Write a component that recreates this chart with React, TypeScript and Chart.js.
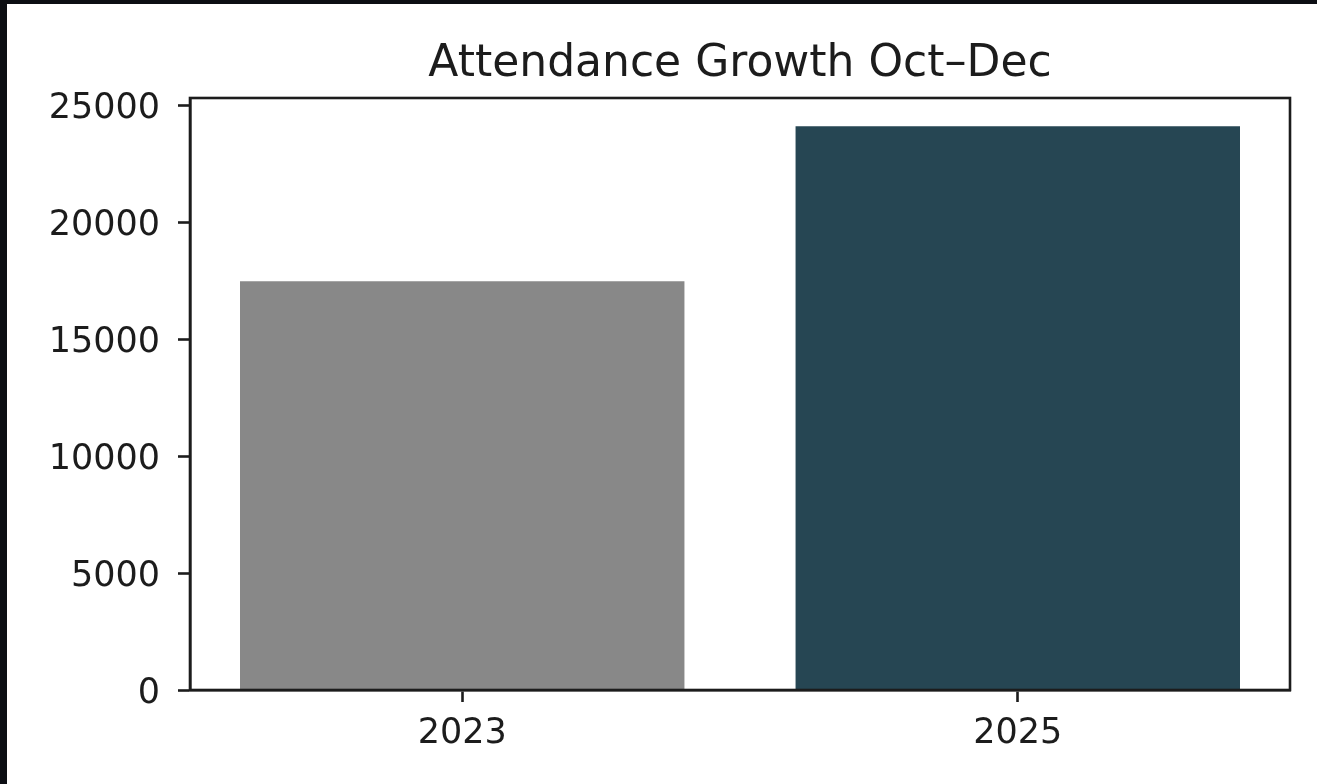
import React, { useEffect, useRef } from "react";
import { Chart, registerables } from "chart.js";

Chart.register(...registerables);

const title = "Attendance Growth Oct–Dec";
const categories = ["2023", "2025"];
const attendance = [17470, 24100];
const barColors = ["#888888", "#264653"];
const yTicks = [0, 5000, 10000, 15000, 20000, 25000];

const FONT = "'DejaVu Sans', sans-serif";
const INK = "#1c1c1c";

// Axes frame (matplotlib-style spines) drawn over the bars
const framePlugin = {
  id: "frame",
  afterDatasetsDraw(chart: any) {
    const { ctx, chartArea } = chart;
    ctx.save();
    ctx.strokeStyle = INK;
    ctx.lineWidth = 2.6;
    ctx.strokeRect(
      chartArea.left,
      chartArea.top,
      chartArea.right - chartArea.left,
      chartArea.bottom - chartArea.top
    );
    ctx.restore();
  },
};

// Title centred over the plot area, as matplotlib does
const axesTitlePlugin = {
  id: "axesTitle",
  afterDraw(chart: any) {
    const { ctx, chartArea } = chart;
    ctx.save();
    ctx.fillStyle = INK;
    ctx.font = `normal 44px ${FONT}`;
    ctx.textAlign = "center";
    ctx.textBaseline = "alphabetic";
    ctx.fillText(title, (chartArea.left + chartArea.right) / 2, chartArea.top - 22);
    ctx.restore();
  },
};

export default function App() {
  const ref = useRef<HTMLCanvasElement | null>(null);

  useEffect(() => {
    if (!ref.current) return;
    const maxY = Math.max(...attendance) * 1.05;
    const chart = new Chart(ref.current, {
      type: "bar",
      data: {
        datasets: [
          {
            label: "Attendance",
            data: attendance.map((v, i) => ({ x: i, y: v })),
            backgroundColor: barColors,
            borderWidth: 0,
            barPercentage: 0.8,
            categoryPercentage: 1,
          },
        ],
      },
      options: {
        animation: false,
        responsive: false,
        maintainAspectRatio: false,
        layout: { padding: { left: 0, right: 27, top: 94, bottom: 0 } },
        plugins: {
          legend: { display: false },
          tooltip: { enabled: false },
          title: { display: false },
        },
        scales: {
          x: {
            type: "linear",
            min: -0.49,
            max: 1.49,
            offset: false,
            afterBuildTicks: (scale: any) => {
              scale.ticks = categories.map((_, i) => ({ value: i }));
            },
            afterFit: (scale: any) => {
              scale.height = 94;
            },
            ticks: {
              color: INK,
              font: { family: FONT, size: 35 },
              padding: 11,
              maxRotation: 0,
              callback: (v: any) => categories[Number(v)] ?? "",
            },
            grid: {
              display: true,
              offset: false,
              drawOnChartArea: false,
              drawTicks: true,
              tickLength: 12,
              tickWidth: 2.6,
              tickColor: INK,
            },
            border: { display: true, color: INK, width: 2.6 },
          },
          y: {
            type: "linear",
            min: 0,
            max: maxY,
            afterBuildTicks: (scale: any) => {
              scale.ticks = yTicks.map((v) => ({ value: v }));
            },
            afterFit: (scale: any) => {
              scale.width = 183;
            },
            ticks: {
              color: INK,
              font: { family: FONT, size: 35 },
              padding: 18,
              labelOffset: 3.5,
              callback: (v: any) => String(v),
            },
            grid: {
              display: true,
              offset: false,
              drawOnChartArea: false,
              drawTicks: true,
              tickLength: 12,
              tickWidth: 2.6,
              tickColor: INK,
            },
            border: { display: true, color: INK, width: 2.6 },
          },
        },
      },
      plugins: [framePlugin, axesTitlePlugin],
    } as any);
    return () => chart.destroy();
  }, []);

  return (
    <div
      style={{
        position: "fixed",
        left: 0,
        top: 0,
        width: 1317,
        height: 784,
        background: "#0c0e13",
        overflow: "hidden",
      }}
    >
      <div
        style={{
          position: "absolute",
          left: 7,
          top: 4,
          width: 1310,
          height: 780,
          background: "#ffffff",
        }}
      >
        <canvas ref={ref} width={1310} height={780} style={{ display: "block" }} />
      </div>
    </div>
  );
}
